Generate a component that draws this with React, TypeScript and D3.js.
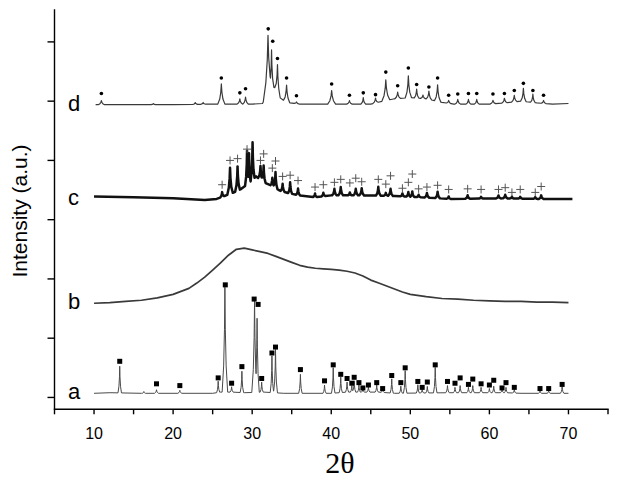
import * as d3 from 'd3';

const W = 619;
const H = 483;

const xTicks = [5, 10, 15, 20, 25, 30, 35, 40, 45, 50, 55, 60, 65, 70, 75];
const xTickLabels = [10, 20, 30, 40, 50, 60, 70];
const yTicks = [0, 100, 200, 300, 400, 500, 600];

const traceLabels = ['a', 'b', 'c', 'd'];
const traceOffsets = [7, 159, 335, 494];

// trace a: baseline knots [2θ, I], peaks [2θ, height, half width], markers [2θ, I]
const aBaseline = [[10, 0], [12, 1], [16, 0], [25, 0], [26, 2], [27.5, 2], [29, 1], [31.5, 2], [34, 0], [40, 0], [42, 2], [46, 2], [48, 0], [55, 1], [62, 1], [64, 0], [70, 0]];
const aPeaks = [
  [13.25, 45, 0.22], [16.3, 3, 0.2], [17.9, 6, 0.25], [20.85, 5, 0.25], [25.7, 19, 0.2],
  [26.55, 177, 0.35], [27.4, 9, 0.2], [28.7, 36, 0.22], [30.3, 155, 0.35], [30.62, 125, 0.28],
  [31.2, 17, 0.2], [32.5, 62, 0.22], [32.95, 73, 0.25], [36.1, 32, 0.22], [39.15, 14, 0.2],
  [40.25, 43, 0.22], [41.2, 26, 0.2], [42.0, 17, 0.2], [42.6, 11, 0.18], [42.9, 19, 0.2],
  [43.5, 12, 0.18], [44.0, 6, 0.18], [44.7, 9, 0.2], [45.75, 12, 0.2], [46.5, 6, 0.2],
  [47.65, 24, 0.2], [48.8, 12, 0.2], [49.35, 38, 0.22], [50.95, 14, 0.2], [51.5, 6, 0.2],
  [52.15, 11, 0.2], [53.15, 43, 0.22], [54.7, 12, 0.22], [55.65, 9, 0.2], [56.3, 12, 0.2],
  [57.35, 9, 0.2], [57.9, 12, 0.2], [58.95, 9, 0.2], [60.0, 7, 0.2], [60.55, 11, 0.2],
  [61.6, 6, 0.2], [62.1, 9, 0.2], [63.15, 6, 0.2], [66.4, 4, 0.2], [67.5, 4, 0.2], [69.2, 11, 0.22],
];
const aMarkers = [
  [13.25, 54], [17.9, 16], [20.85, 13], [25.7, 26], [26.6, 183], [27.4, 17], [28.7, 45],
  [30.25, 159], [30.75, 150], [31.2, 25], [32.5, 68], [32.95, 78], [36.1, 40], [39.15, 21],
  [40.25, 48], [41.2, 32], [42.0, 25], [42.6, 17], [42.9, 27], [43.5, 18], [44.0, 9],
  [44.7, 14], [45.75, 18], [46.5, 8], [47.65, 30], [48.8, 18], [49.35, 43], [50.95, 20],
  [51.5, 10], [52.15, 19], [53.15, 48], [54.7, 20], [55.65, 17], [56.3, 26], [57.35, 15],
  [57.9, 24], [58.95, 16], [60.0, 14], [60.55, 22], [61.6, 9], [62.1, 18], [63.15, 10],
  [66.4, 8], [67.5, 8], [69.2, 15],
];

// trace b: broad amorphous hump
const bBaseline = [
  [10, 0], [12, 1], [14, 3], [16, 5], [18, 9], [20, 15], [21, 20], [22, 25], [23, 34], [24, 44],
  [25, 56], [26, 68], [27, 81], [28, 91], [29, 93], [30, 90], [31, 87], [32, 84], [33, 79],
  [34, 74], [35, 69], [36, 64], [37, 61], [38, 59], [39, 58], [40, 57], [41, 56], [42, 54],
  [43, 51], [44, 46], [45, 39], [46, 34], [47, 29], [48, 24], [49, 19], [50, 15], [52, 11],
  [54, 8], [56, 7], [58, 5], [60, 4], [62, 3], [64, 3], [66, 2], [68, 2], [70, 1],
];
const bPeaks: number[][] = [];
const bMarkers: number[][] = [];

// trace c
const cBaseline = [
  [10, 4], [15, 3], [20, 1], [24, -2], [25.5, 0], [26.5, 5], [27.5, 10], [28.5, 16], [29.5, 26],
  [30.5, 38], [31.5, 28], [32.5, 22], [33.5, 14], [34.5, 10], [36, 6], [38, 3], [40, 6], [44, 6],
  [48, 5], [51, 3], [55, 0], [62, 1], [66, 0], [70.5, 0],
];
const cPeaks = [
  [26.2, 8, 0.25], [27.2, 44, 0.35], [28.15, 41, 0.3], [29.35, 57, 0.25], [29.6, 50, 0.2],
  [30.05, 63, 0.25], [31.05, 23, 0.3], [31.45, 28, 0.25], [32.55, 14, 0.25], [32.95, 27, 0.25],
  [33.85, 13, 0.25], [34.8, 19, 0.25], [35.8, 11, 0.25], [37.95, 6, 0.25], [39.0, 6, 0.25],
  [40.4, 11, 0.3], [41.2, 14, 0.3], [42.35, 5, 0.25], [43.1, 11, 0.3], [43.85, 12, 0.3],
  [45.95, 15, 0.3], [46.9, 5, 0.25], [47.5, 12, 0.3], [49.0, 5, 0.25], [49.75, 8, 0.25],
  [50.25, 9, 0.25], [51.05, 4, 0.25], [52.1, 8, 0.3], [53.45, 11, 0.3], [54.85, 4, 0.25],
  [57.25, 6, 0.3], [58.95, 3, 0.25], [61.15, 5, 0.3], [62.0, 6, 0.3], [62.85, 3, 0.25],
  [63.9, 3, 0.25], [65.8, 3, 0.25], [66.55, 6, 0.3],
];
const cMarkers = [
  [26.2, 24], [27.2, 65], [28.15, 68], [29.35, 84], [31.05, 65], [31.45, 76], [32.55, 52],
  [32.95, 64], [33.85, 38], [34.8, 40], [35.8, 31], [37.95, 20], [39.0, 24], [40.4, 28],
  [41.2, 33], [42.35, 27], [43.1, 35], [43.85, 29], [45.95, 33], [46.9, 25], [47.5, 39],
  [49.0, 18], [49.75, 28], [50.25, 42], [51.05, 17], [52.1, 20], [53.45, 23], [54.85, 16],
  [57.25, 17], [58.95, 16], [61.15, 16], [62.0, 19], [62.85, 11], [63.9, 16], [65.8, 11],
  [66.55, 21],
];

// trace d
const dBaseline = [
  [10.2, 0], [20, 0], [25, 1], [30, 1], [31.3, 2], [32, 20], [32.8, 30], [33.5, 12], [34, 7],
  [34.8, 3], [36, 1], [45, 1], [46.5, 6], [48, 10], [50, 12], [52, 10], [54, 4], [55.5, 1],
  [60, 1], [62, 3], [64, 6], [66, 3], [68, 1], [70, 2],
];
const dPeaks = [
  [10.93, 7, 0.4], [17.5, 2, 0.3], [22.8, 3, 0.3], [23.8, 3, 0.3], [26.1, 34, 0.45],
  [28.44, 9, 0.35], [29.16, 12, 0.35], [32.0, 97, 0.6], [32.45, 67, 0.3], [33.2, 48, 0.35],
  [34.35, 28, 0.4], [35.6, 3, 0.3], [40.05, 23, 0.5], [42.3, 6, 0.35], [44.05, 11, 0.3],
  [45.6, 8, 0.35], [46.9, 35, 0.5], [48.4, 11, 0.35], [49.75, 37, 0.4], [50.8, 15, 0.3],
  [51.6, 6, 0.3], [52.35, 14, 0.35], [53.45, 28, 0.4], [54.85, 5, 0.3], [56.0, 8, 0.35],
  [57.35, 8, 0.3], [58.4, 8, 0.3], [60.45, 6, 0.35], [61.9, 8, 0.35], [63.15, 11, 0.35],
  [64.3, 22, 0.35], [65.5, 14, 0.3], [66.85, 5, 0.3],
];
const dMarkers = [
  [10.93, 19], [26.1, 45], [28.44, 20], [29.16, 27], [32.03, 128], [32.6, 107], [33.2, 78],
  [34.35, 45], [35.6, 15], [40.05, 35], [42.3, 16], [44.05, 20], [45.6, 17], [46.9, 55],
  [48.4, 32], [49.75, 62], [50.8, 34], [52.35, 30], [53.45, 45], [54.85, 16], [56.0, 18],
  [57.35, 19], [58.4, 19], [60.45, 18], [61.9, 19], [63.15, 24], [64.3, 36], [65.5, 24],
  [66.85, 16],
];

// peak outline: [distance / half width, fraction of height]
const peakProfile = [[0, 1], [0.15, 0.6], [0.45, 0.25], [1, 0]];
const profileFn = d3.scaleLinear()
  .domain(peakProfile.map(p => p[0]))
  .range(peakProfile.map(p => p[1]))
  .clamp(true);

function buildTrace(baseline: number[][], peaks: number[][]) {
  const lo = baseline[0][0];
  const hi = baseline[baseline.length - 1][0];
  const base = d3.scaleLinear()
    .domain(baseline.map(d => d[0]))
    .range(baseline.map(d => d[1]))
    .clamp(true);
  const xs = new Set<number>();
  baseline.forEach(d => xs.add(d[0]));
  peaks.forEach(([p, , w]) => peakProfile.forEach(([t]) => { xs.add(p - t * w); xs.add(p + t * w); }));
  return [...xs]
    .filter(v => v >= lo && v <= hi)
    .sort((a, b) => a - b)
    .map(v => {
      const top = d3.max(peaks, ([p, h, w]) => h * profileFn(Math.abs(v - p) / w)) ?? 0;
      return [v, base(v) + top] as [number, number];
    });
}

const traces = [
  { baseline: aBaseline, peaks: aPeaks, markers: aMarkers, kind: 'square', stroke: '#4a4a4a', width: 1 },
  { baseline: bBaseline, peaks: bPeaks, markers: bMarkers, kind: 'none', stroke: '#3a3a3a', width: 1.7 },
  { baseline: cBaseline, peaks: cPeaks, markers: cMarkers, kind: 'plus', stroke: '#111', width: 2.5 },
  { baseline: dBaseline, peaks: dPeaks, markers: dMarkers, kind: 'dot', stroke: '#3a3a3a', width: 1.2 },
];

export default function App() {
  const x = d3.scaleLinear().domain([5, 75]).range([54.5, 608]);
  const y = d3.scaleLinear().domain([-20, 655]).range([409.3, 9.3]);
  const line = d3.line<[number, number]>().x(d => x(d[0])).y(d => y(d[1]));
  const [y0, y1] = y.range();

  return (
    <svg width={W} height={H} style={{ position: 'absolute', left: 0, top: 0, background: '#fff' }}
      fontFamily="'Liberation Sans', Arial, sans-serif">
      <rect width={W} height={H} fill="#fff" />

      {traces.map((t, i) => {
        const off = traceOffsets[i];
        const pts = buildTrace(t.baseline, t.peaks).map(d => [d[0], d[1] + off] as [number, number]);
        return (
          <g key={i}>
            <path d={line(pts) ?? ''} fill="none" stroke={t.stroke} strokeWidth={t.width} strokeLinejoin="round" />
            {t.markers.map(([mx, my], j) => {
              const cx = x(mx);
              const cy = y(my + off);
              if (t.kind === 'square') return <rect key={j} x={cx - 2.5} y={cy - 2.5} width={5} height={5} fill="#000" />;
              if (t.kind === 'dot') return <circle key={j} cx={cx} cy={cy} r={1.8} fill="#000" />;
              return <path key={j} d={`M${cx - 4},${cy}H${cx + 4}M${cx},${cy - 4}V${cy + 4}`} stroke="#555" strokeWidth={1} />;
            })}
            <text x={68} y={y(off) + 6} fontSize={22} fill="#000">{traceLabels[i]}</text>
          </g>
        );
      })}

      {/* axes */}
      <line x1={x(5)} x2={x(5)} y1={y0} y2={y1} stroke="#000" strokeWidth={1.4} />
      <line x1={x(5) - 0.7} x2={x(75) + 0.7} y1={y0} y2={y0} stroke="#000" strokeWidth={1.4} />
      {yTicks.map(v => (
        <line key={v} x1={x(5) - 7} x2={x(5)} y1={y(v)} y2={y(v)} stroke="#000" strokeWidth={1.4} />
      ))}
      {xTicks.map(v => (
        <line key={v} x1={x(v)} x2={x(v)} y1={y0} y2={y0 + 5} stroke="#000" strokeWidth={1.4} />
      ))}
      {xTickLabels.map(v => (
        <text key={v} x={x(v)} y={439} fontSize={16} textAnchor="middle" fill="#000">{v}</text>
      ))}

      <text x={340} y={473} fontSize={30} textAnchor="middle" fontFamily="'Liberation Serif', 'Times New Roman', serif" fill="#000">2θ</text>
      <text transform="translate(27,211) rotate(-90)" fontSize={21} textAnchor="middle" fill="#000">Intensity (a.u.)</text>
    </svg>
  );
}
